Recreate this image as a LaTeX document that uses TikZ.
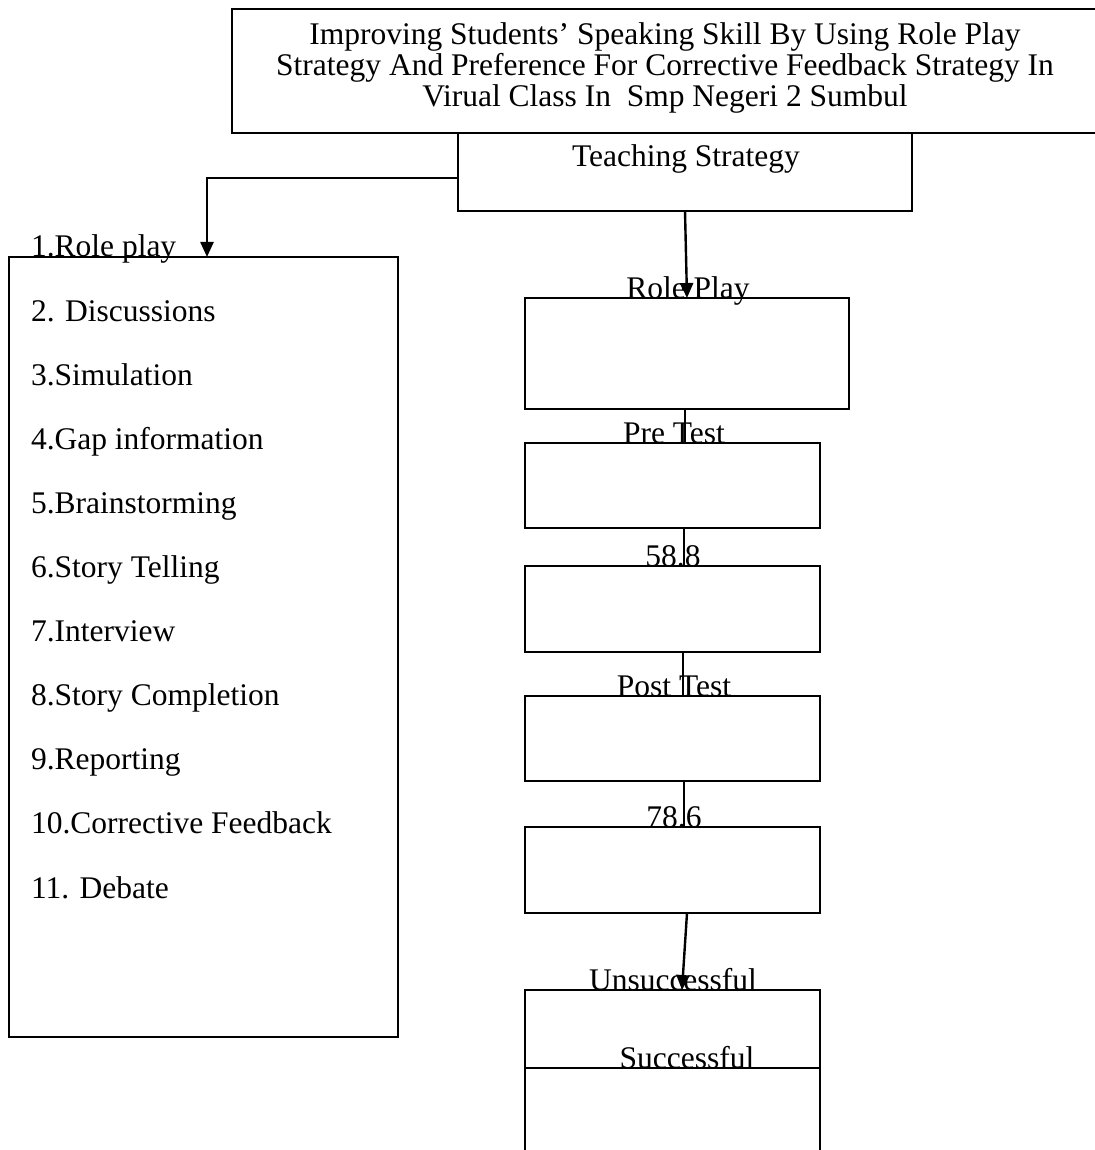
\documentclass[tikz,border=0pt]{standalone}
\usepackage{fontspec}
\setmainfont{Liberation Serif}
\usetikzlibrary{arrows.meta,calc}
\begin{document}
\begin{tikzpicture}[x=1pt,y=-1pt,
  every node/.style={font=\fontsize{31.5}{31}\selectfont, inner sep=0pt, outer sep=0pt},
  box/.style={draw, line width=2pt, anchor=north west, inner sep=0pt},
  lbl/.style={anchor=base},
  item/.style={anchor=base west},
  arr/.style={line width=2.4pt, -{Triangle[length=15pt,width=13pt]}},
  link/.style={line width=1.6pt}]
\fill[white] (0,0) rectangle (1094,1150);
\useasboundingbox (0,0) rectangle (1094,1150);

% title
\node[box, minimum width=866pt, minimum height=124pt] (title) at (232,9) {};
\node[align=center, anchor=north] (titletxt) at (665,23) {Improving Students’ Speaking Skill By Using Role Play\\Strategy And Preference For Corrective Feedback Strategy In\\Virual Class In\ \ Smp Negeri 2 Sumbul};

% teaching strategy
\node[box, minimum width=454pt, minimum height=78pt] (ts) at (458,133) {};
\node[lbl] (tsl) at (686,167) {Teaching Strategy};

% list
\node[box, minimum width=389pt, minimum height=780pt] (list) at (9,257) {};
\foreach \i/\txt in {1/1.Role play, 2/2. Discussions, 3/3.Simulation, 4/4.Gap information, 5/5.Brainstorming, 6/6.Story Telling, 7/7.Interview, 8/8.Story Completion, 9/9.Reporting, 10/10.Corrective Feedback, 11/11. Debate}
  \node[item] (item\i) at (31,{257+64.1*(\i-1)}) {\txt};

% right column
\node[box, minimum width=324pt, minimum height=111pt] (rp) at (525,298) {};
\node[lbl] (rpl) at (688,298) {Role Play};
\node[box, minimum width=295pt, minimum height=85pt] (pre) at (525,443) {};
\node[lbl] (prel) at (674,443) {Pre Test};
\node[box, minimum width=295pt, minimum height=86pt] (m1) at (525,566) {};
\node[lbl] (m1l) at (673,566) {58.8};
\node[box, minimum width=295pt, minimum height=85pt] (post) at (525,696) {};
\node[lbl] (postl) at (674,696) {Post Test};
\node[box, minimum width=295pt, minimum height=86pt] (m2) at (525,827) {};
\node[lbl] (m2l) at (674,827) {78.6};
\node[box, minimum width=295pt, minimum height=78pt] (uns) at (525,990) {};
\node[lbl] (unsl) at (673,990) {Unsuccessful};
\node[box, minimum width=295pt, minimum height=100pt] (suc) at (525,1068) {};
\node[lbl] (sucl) at (687,1068) {Successful};

% connectors
\coordinate (tsw) at ($(ts.north west)+(0,45)$);
\coordinate (listin) at ($(list.north)+(3.5,0)$);
\draw[arr] (tsw) -| (listin);
\draw[arr] (ts.south) -- (rp.north);
\draw[link] ($(rp.south)+(-2,0)$) -- ($(rp.south |- pre.north)+(-2,0)$);
\draw[link] ($(pre.south)+(11.5,0)$) -- ($(m1.north)+(11.5,0)$);
\draw[link] ($(m1.south)+(10.5,0)$) -- ($(post.north)+(10.5,0)$);
\draw[link] ($(post.south)+(11.5,0)$) -- ($(m2.north)+(11.5,0)$);
\draw[arr] ($(m2.south)+(14.5,0)$) -- ($(uns.north)+(9.5,0)$);
\end{tikzpicture}
\end{document}
